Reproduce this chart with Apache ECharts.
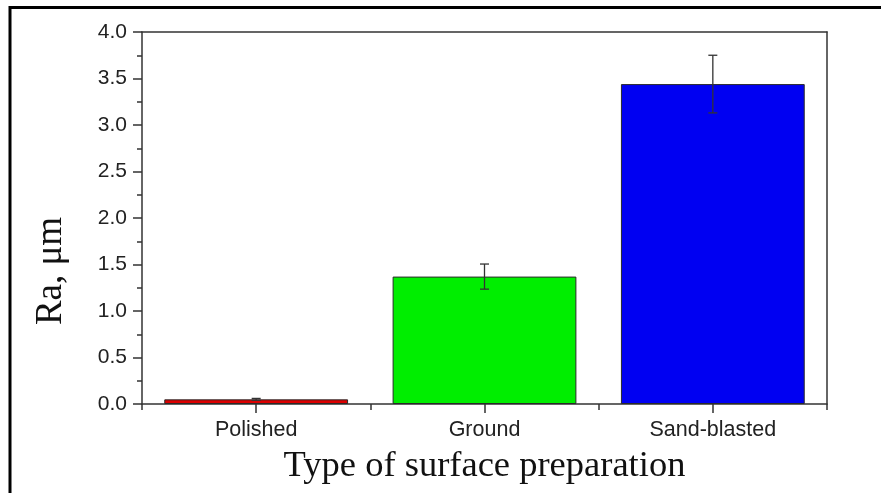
<!DOCTYPE html>
<html>
<head>
<meta charset="utf-8">
<title>Ra by surface preparation</title>
<script src="https://cdn.jsdelivr.net/npm/echarts@6/dist/echarts.min.js"></script>
<style>
  html, body { margin: 0; padding: 0; background: #ffffff; }
  #chart { width: 881px; height: 493px; }
</style>
</head>
<body>
<div id="chart"></div>
<script>
// Surface roughness Ra (µm) for three surface preparations, mean ± deviation
const categories = ['Polished', 'Ground', 'Sand-blasted'];
const raMean = [0.05, 1.37, 3.44];
const raError = [0.01, 0.135, 0.31];
const barColors = ['#dc0000', '#00ee00', '#0000f2'];
const yTicks = [0, 4, 0.5];   // min, max, interval

const chart = echarts.init(document.getElementById('chart'), null, { renderer: 'canvas' });

const axisColor = '#333333';
const sansFont = '"Liberation Sans", Arial, sans-serif';
const serifFont = '"Liberation Serif", "Times New Roman", serif';

const barData = raMean.map((v, i) => ({
  value: v,
  itemStyle: { color: barColors[i], borderColor: '#2a2a2a', borderWidth: 1 }
}));

const errorData = raMean.map((v, i) => [i, v - raError[i], v + raError[i]]);

const option = {
  animation: false,
  backgroundColor: '#ffffff',
  grid: { left: 142, top: 32, right: 54, bottom: 89, containLabel: false },
  xAxis: [
    {
      type: 'category',
      data: categories,
      position: 'bottom',
      axisLine: { show: true, lineStyle: { color: axisColor, width: 1.5 } },
      axisTick: { show: true, alignWithLabel: true, length: 9, lineStyle: { color: axisColor, width: 1.5 } },
      axisLabel: { margin: 15, fontFamily: sansFont, fontSize: 21.5, color: '#222222' },
      name: 'Type of surface preparation',
      nameLocation: 'middle',
      nameGap: 44,
      nameTextStyle: { fontFamily: serifFont, fontSize: 36.5, color: '#111111' }
    },
    {
      // boundary ticks between categories
      type: 'category',
      data: categories,
      position: 'bottom',
      axisLine: { show: false },
      axisTick: { show: true, length: 6, lineStyle: { color: axisColor, width: 1.5 } },
      axisLabel: { show: false }
    },
    {
      // top frame line
      type: 'category',
      data: categories,
      position: 'top',
      axisLine: { show: true, lineStyle: { color: axisColor, width: 1.5 } },
      axisTick: { show: false },
      axisLabel: { show: false }
    }
  ],
  yAxis: [
    {
      type: 'value',
      min: yTicks[0],
      max: yTicks[1],
      interval: yTicks[2],
      position: 'left',
      axisLine: { show: true, lineStyle: { color: axisColor, width: 1.5 } },
      axisTick: { show: true, inside: false, length: 9, lineStyle: { color: axisColor, width: 1.5 } },
      minorTick: { show: true, splitNumber: 2, length: 5, lineStyle: { color: axisColor, width: 1.5 } },
      splitLine: { show: false },
      axisLabel: {
        margin: 15,
        fontFamily: sansFont,
        fontSize: 21,
        color: '#222222',
        formatter: v => v.toFixed(1)
      }
    },
    {
      // right frame line
      type: 'value',
      min: yTicks[0],
      max: yTicks[1],
      interval: yTicks[2],
      position: 'right',
      axisLine: { show: true, lineStyle: { color: axisColor, width: 1.5 } },
      axisTick: { show: false },
      axisLabel: { show: false },
      splitLine: { show: false }
    }
  ],
  series: [
    {
      type: 'bar',
      xAxisIndex: 0,
      yAxisIndex: 0,
      data: barData,
      barWidth: '80.5%'
    },
    {
      type: 'custom',
      xAxisIndex: 0,
      yAxisIndex: 0,
      data: errorData,
      z: 5,
      renderItem: function (params, api) {
        const x = api.value(0);
        const lo = api.coord([x, api.value(1)]);
        const hi = api.coord([x, api.value(2)]);
        const half = 4.5;
        const style = { stroke: '#333333', lineWidth: 1.3 };
        return {
          type: 'group',
          children: [
            { type: 'line', shape: { x1: hi[0], y1: hi[1], x2: lo[0], y2: lo[1] }, style: style },
            { type: 'line', shape: { x1: hi[0] - half, y1: hi[1], x2: hi[0] + half, y2: hi[1] }, style: style },
            { type: 'line', shape: { x1: lo[0] - half, y1: lo[1], x2: lo[0] + half, y2: lo[1] }, style: style }
          ]
        };
      }
    }
  ],
  graphic: [
    // outer figure frame
    { type: 'line', shape: { x1: 10, y1: 7.5, x2: 881, y2: 7.5 }, style: { stroke: '#000000', lineWidth: 3 } },
    { type: 'line', shape: { x1: 10, y1: 6, x2: 10, y2: 493 }, style: { stroke: '#000000', lineWidth: 3 } },
    // y axis title
    {
      type: 'text',
      x: 51,
      y: 271,
      rotation: Math.PI / 2,
      style: {
        text: 'Ra, μm',
        fontFamily: serifFont,
        fontSize: 37,
        fill: '#111111',
        align: 'center',
        verticalAlign: 'middle'
      }
    }
  ]
};

chart.setOption(option);
</script>
</body>
</html>
